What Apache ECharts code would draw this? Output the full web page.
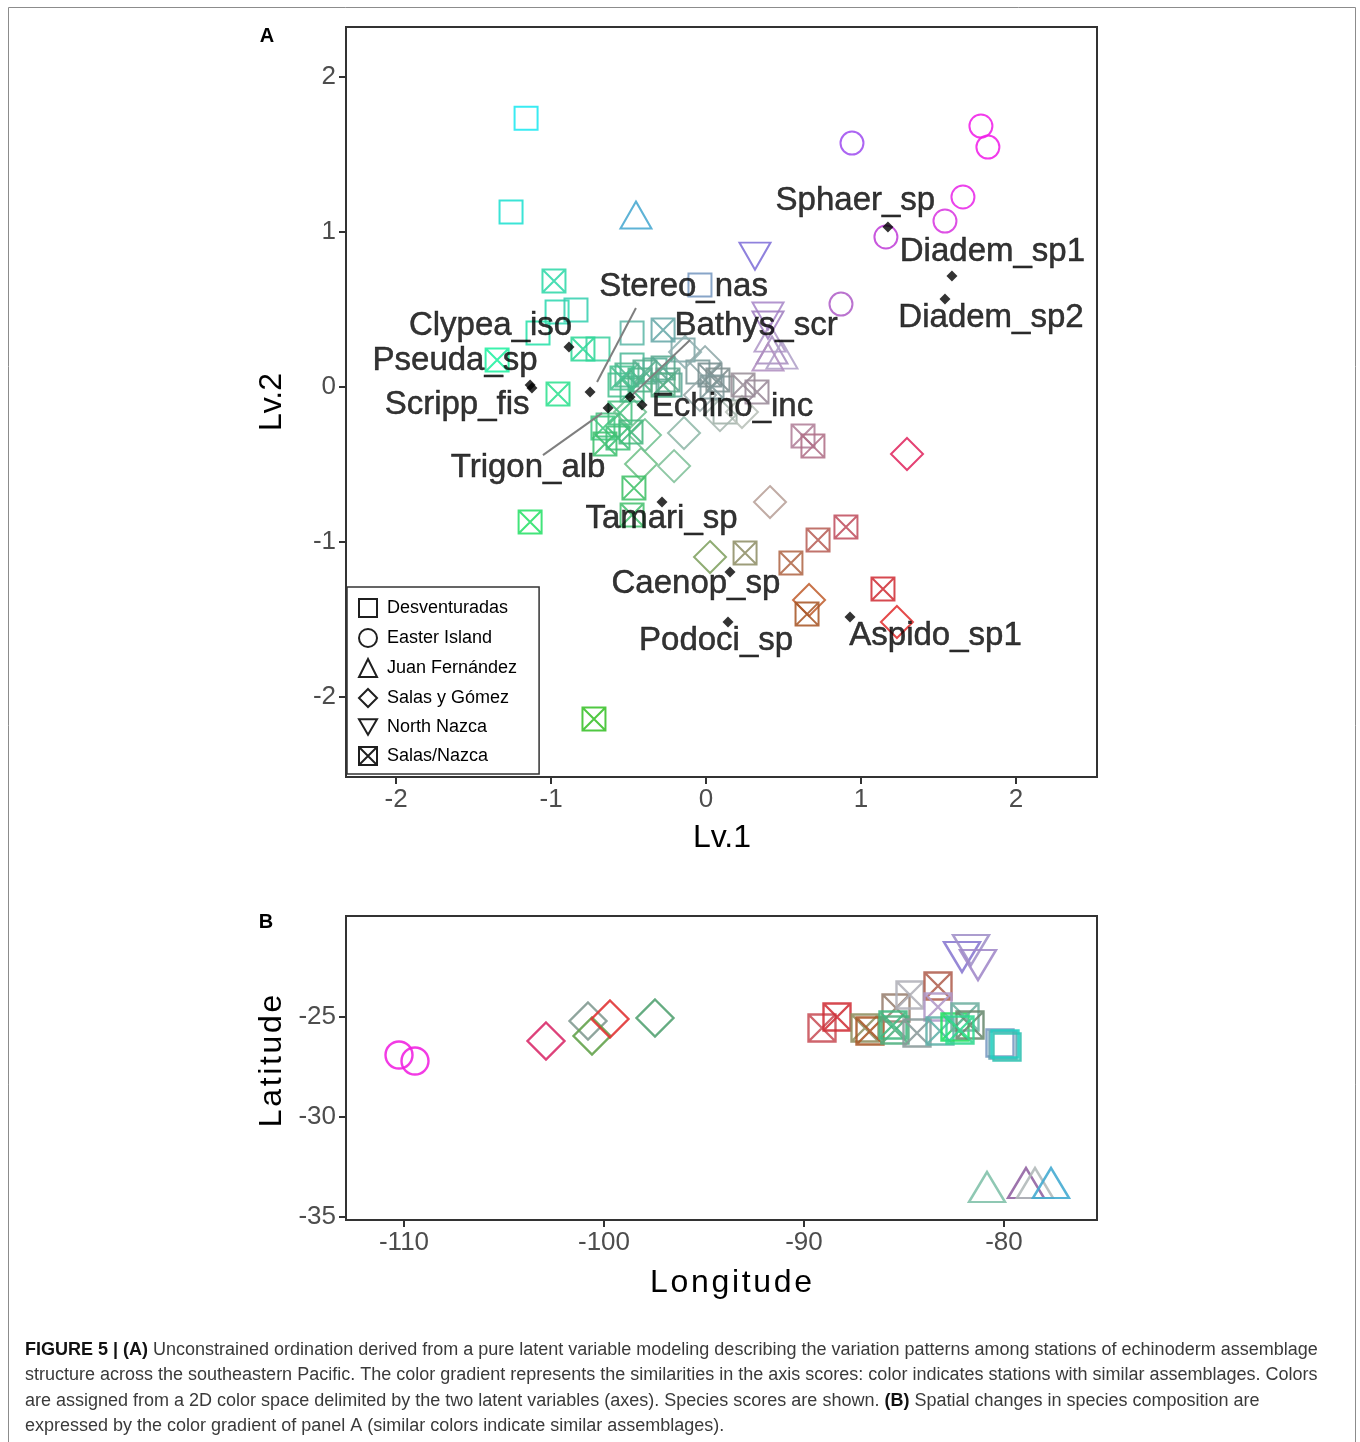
<!DOCTYPE html>
<html><head><meta charset="utf-8">
<script src="https://cdn.jsdelivr.net/npm/echarts@6/dist/echarts.min.js"></script>
<style>html,body{margin:0;padding:0;background:#fff}#c{width:1360px;height:1442px}</style>
</head><body><div id="c"></div>
<script>
// ---------- Panel A: station scores (Lv.1, Lv.2) ----------
const desvA = [[-1.161,1.735],[-1.258,1.129],[-0.961,0.484],[-0.839,0.497],[-1.084,0.348],[-0.697,0.245],[-0.477,0.348],[-0.039,0.658],[-0.477,0.142],[-0.555,0.013],[-0.329,0.110],[-0.232,0.013],[-0.052,0.097],[0.103,-0.006],[0.123,-0.161],[-0.632,-0.245],[-0.148,0.239]];
const desvAColor = ['#1ee8f0','#20e0d0','#30d8b0','#38d0b0','#28e0a8','#40d0a0','#60b8a8','#7898c0','#50b898','#48c090','#58b098','#60a898','#7a9a98','#8a9a9a','#a0b0a8','#48c080','#80a8a8'];

const easterA = [[0.942,1.574],[1.774,1.684],[1.819,1.548],[1.658,1.226],[1.542,1.071],[1.161,0.968],[0.871,0.535]];
const easterAColor = ['#a050f0','#f020e8','#f020e8','#e828e8','#d838e0','#c040d8','#b060c8'];

const juanA = [[-0.452,1.110],[0.413,0.316],[0.426,0.239],[0.490,0.206],[0.400,0.194]];
const juanAColor = ['#48a8d0','#b098c8','#a890c0','#b0a0c8','#b090c0'];

const salasA = [[1.297,-0.432],[1.232,-1.516],[0.665,-1.374],[0.413,-0.742],[0.026,-1.097],[-0.206,-0.510],[-0.419,-0.497],[-0.142,-0.297],[-0.394,-0.310],[0.232,-0.161],[0.090,-0.181],[-0.135,0.226],[-0.006,0.161],[-0.039,-0.052],[-0.490,-0.161]];
const salasAColor = ['#e02860','#e03030','#c06030','#b8a098','#80a060','#80c098','#70c088','#90b8a8','#70c090','#b8c0b8','#a8b8b0','#90b0b0','#90a8a8','#98a8a8','#70c090'];

const nnazcaA = [[0.316,0.845],[0.400,0.458],[0.400,0.400]];
const nnazcaAColor = ['#8070d8','#a888c8','#a080c0'];

const snA = [[-0.981,0.684],[-0.794,0.245],[-1.348,0.174],[-0.955,-0.045],[-0.277,0.368],[-1.135,-0.871],[-0.723,-2.142],[-0.465,-0.652],[-0.477,-0.826],[-0.665,-0.265],[-0.652,-0.368],[-0.484,-0.290],[-0.555,-0.168],[0.626,-0.316],[0.690,-0.381],[0.903,-0.903],[0.723,-0.987],[0.548,-1.135],[0.252,-1.071],[0.652,-1.465],[1.142,-1.303],[-0.510,0.077],[-0.426,0.045],[-0.477,-0.019],[-0.394,0.097],[-0.277,0.123],[-0.245,0.045],[-0.277,0.013],[0.026,0.077],[0.077,0.045],[0.039,0.000],[0.239,0.013],[0.329,-0.032],[-0.542,0.058],[-0.568,-0.329]];
const snAColor = ['#30d8a8','#30d898','#20f0a0','#30e090','#68a8a8','#28e068','#38c028','#40c068','#48c070','#40c880','#40c070','#48b880','#48c080','#b08098','#b07088','#c05060','#b86058','#b06848','#909068','#a85828','#d03038','#50b890','#50b088','#48b888','#58b090','#58a890','#60a890','#58b088','#788e90','#809090','#80989a','#9a9098','#9a8a98','#48c090','#40c078'];

// ---------- Panel A: species scores ----------
const speciesNames = ['Sphaer_sp','Diadem_sp1','Diadem_sp2','Stereo_nas','Bathys_scr','Echino_inc','Trigon_alb','Clypea_iso','Pseuda_sp','Scripp_fis','Tamari_sp','Caenop_sp','Podoci_sp','Aspido_sp1'];
const speciesLv1 = [1.174,1.587,1.542,-0.748,-0.490,-0.413,-0.632,-0.884,-1.135,-1.123,-0.284,0.155,0.142,0.929];
const speciesLv2 = [1.032,0.716,0.568,-0.032,-0.065,-0.116,-0.135,0.258,0.013,-0.006,-0.742,-1.194,-1.516,-1.484];
// label anchor positions (data units, as placed by the label repel)
const labelLv1 = [0.964,1.848,1.839,-0.145,0.323,0.171,-1.148,-1.390,-1.619,-1.606,-0.287,-0.065,0.065,1.481];
const labelLv2 = [1.203,0.874,0.448,0.648,0.397,-0.126,-0.519,0.397,0.171,-0.113,-0.848,-1.268,-1.635,-1.603];
// connector segments (data units)
const connectors = [
  [[-0.703,0.032],[-0.452,0.510]],
  [[-0.477,-0.052],[-0.103,0.303]],
  [[-0.671,-0.168],[-1.052,-0.439]]
];

// ---------- Panel B: stations (Longitude, Latitude) ----------
const desvB = [[-80.2,-26.3],[-80.05,-26.4],[-79.85,-26.5],[-79.95,-26.35]];
const desvBColor = ['#7898c0','#60a0b0','#30c0b0','#20d0c0'];
const easterB = [[-110.25,-26.9],[-109.45,-27.2]];
const easterBColor = ['#f020e0','#f020e0'];
const juanB = [[-80.85,-33.5],[-78.9,-33.3],[-78.45,-33.3],[-77.65,-33.3]];
const juanBColor = ['#80c0a8','#9060a0','#b0b8b8','#40a8d0'];
const salasB = [[-102.9,-26.2],[-100.8,-25.2],[-100.6,-25.95],[-99.7,-25.1],[-97.45,-25.05]];
const salasBColor = ['#d82868','#809890','#60a048','#e03030','#50a070'];
const nnazcaB = [[-82.1,-22.0],[-81.65,-21.65],[-81.3,-22.4]];
const nnazcaBColor = ['#8878d0','#a090c8','#a088c8'];
const snB = [[-89.1,-25.55],[-88.35,-25.0],[-86.95,-25.55],[-86.7,-25.7],[-85.4,-24.55],[-84.7,-23.9],[-83.3,-23.45],[-83.3,-24.5],[-85.45,-25.65],[-85.55,-25.4],[-84.35,-25.8],[-83.2,-25.7],[-82.45,-25.5],[-81.95,-25.0],[-81.7,-25.4],[-82.2,-25.65]];
const snBColor = ['#c85058','#d03038','#909060','#a85828','#988070','#b0b0b8','#b06050','#b098c8','#50b080','#40b880','#8a9a9a','#60b0a8','#20e060','#70b0a0','#6a8a70','#30d890'];

// ---------- tick labels ----------
const lvTicks = [-2,-1,0,1,2];
const lonTicks = [-110,-100,-90,-80];
const latTicks = [-35,-30,-25];

const captionLines = [
  '{b|FIGURE 5 | (A)} Unconstrained ordination derived from a pure latent variable modeling describing the variation patterns among stations of echinoderm assemblage',
  'structure across the southeastern Pacific. The color gradient represents the similarities in the axis scores: color indicates stations with similar assemblages. Colors',
  'are assigned from a 2D color space delimited by the two latent variables (axes). Species scores are shown. {b|(B)} Spatial changes in species composition are',
  'expressed by the color gradient of panel A (similar colors indicate similar assemblages).'
];

// ---------- chart ----------
const FONT = '"Liberation Sans", Arial, Helvetica, sans-serif';
const SQ = 'path://M0,0L10,0L10,10L0,10Z';
const XSQ = 'path://M0,0L10,0L10,10L0,10Z M0,0L10,10 M10,0L0,10';
const INV = 'path://M0,0L10,0L5,8.66Z';
const groups = [
  {name:'Desventuradas', sym:SQ, legendIcon:SQ, sA:[23,23], sB:[27,27], a:desvA, ac:desvAColor, b:desvB, bc:desvBColor},
  {name:'Easter Island', sym:'circle', legendIcon:'circle', sA:[23,23], sB:[27,27], a:easterA, ac:easterAColor, b:easterB, bc:easterBColor},
  {name:'Juan Fernández', sym:'triangle', legendIcon:'triangle', sA:[31,27], sB:[36,30], a:juanA, ac:juanAColor, b:juanB, bc:juanBColor},
  {name:'Salas y Gómez', sym:'diamond', legendIcon:'diamond', sA:[32,32], sB:[37,37], a:salasA, ac:salasAColor, b:salasB, bc:salasBColor},
  {name:'North Nazca', sym:INV, legendIcon:INV, sA:[31,27], sB:[36,30], a:nnazcaA, ac:nnazcaAColor, b:nnazcaB, bc:nnazcaBColor},
  {name:'Salas/Nazca', sym:XSQ, legendIcon:XSQ, sA:[23,23], sB:[27,27], a:snA, ac:snAColor, b:snB, bc:snBColor}
];

function mk(g, pts, cols, gi, size) {
  return {
    type:'scatter', name:g.name, xAxisIndex:gi, yAxisIndex:gi,
    symbol:g.sym, symbolSize:size,
    data: pts.map((p,i)=>({value:p, itemStyle:{borderColor:cols[i]}})),
    itemStyle:{color:'rgba(0,0,0,0)', borderWidth: gi ? 2.4 : 2, opacity:0.88},
    emphasis:{disabled:true}, silent:true, z:3, animation:false
  };
}

const series = [];
groups.forEach(g => series.push(mk(g, g.a, g.ac, 0, g.sA)));
groups.forEach(g => series.push(mk(g, g.b, g.bc, 1, g.sB)));

series.push({
  type:'lines', coordinateSystem:'cartesian2d', xAxisIndex:0, yAxisIndex:0,
  data: connectors.map(c=>({coords:c})),
  lineStyle:{color:'#7f7f7f', width:2, opacity:1}, z:4, silent:true, animation:false
});
series.push({
  type:'scatter', name:'species', xAxisIndex:0, yAxisIndex:0, symbol:'diamond', symbolSize:11,
  data: speciesLv1.map((x,i)=>[x, speciesLv2[i]]),
  itemStyle:{color:'#000'}, z:5, silent:true, animation:false
});
series.push({
  type:'scatter', name:'speciesLabels', xAxisIndex:0, yAxisIndex:0, symbolSize:1,
  data: labelLv1.map((x,i)=>({value:[x, labelLv2[i]], name:speciesNames[i]})),
  itemStyle:{color:'rgba(0,0,0,0)'},
  label:{show:true, position:'inside', formatter:p=>p.name, fontSize:33, color:'#000', fontFamily:FONT, textBorderColor:'#000', textBorderWidth:0.5},
  z:6, silent:true, animation:false
});

function axisCommon(ticks) {
  return {
    type:'value', splitLine:{show:false}, axisLine:{show:false, onZero:false},
    axisTick:{show:true, length:7, lineStyle:{color:'#333', width:2}, customValues:ticks},
    axisLabel:{customValues:ticks, fontSize:26, color:'#4d4d4d', fontFamily:FONT, margin:10},
  };
}

const graphics = [
  {type:'rect', shape:{x:8.5, y:7.5, width:1347, height:1500}, style:{fill:'none', stroke:'#8c8c8c', lineWidth:1}, silent:true},
  {type:'text', x:267, y:36, style:{text:'A', font:'bold 20px '+FONT, fill:'#000', textAlign:'center', textVerticalAlign:'middle'}},
  {type:'text', x:266, y:922, style:{text:'B', font:'bold 20px '+FONT, fill:'#000', textAlign:'center', textVerticalAlign:'middle'}},
  {type:'text', x:722, y:838, style:{text:'Lv.1', font:'32px '+FONT, fill:'#000', textAlign:'center', textVerticalAlign:'middle'}},
  {type:'text', x:272, y:402, rotation:Math.PI/2, style:{text:'Lv.2', font:'32px '+FONT, fill:'#000', textAlign:'center', textVerticalAlign:'middle'}},
  {type:'text', x:731, y:1283, style:{text:'L\u200Ao\u200An\u200Ag\u200Ai\u200At\u200Au\u200Ad\u200Ae', font:'32px '+FONT, fill:'#000', textAlign:'center', textVerticalAlign:'middle'}},
  {type:'text', x:272, y:1061, rotation:Math.PI/2, style:{text:'L\u200Aa\u200At\u200Ai\u200At\u200Au\u200Ad\u200Ae', font:'32px '+FONT, fill:'#000', textAlign:'center', textVerticalAlign:'middle'}}
];
captionLines.forEach((t,i)=>{
  graphics.push({type:'text', x:25, y:1350 + i*25.5, style:{
    text:t, font:'18px "Liberation Sans Narrow", '+FONT, fill:'#3a3a3a', textAlign:'left', textVerticalAlign:'middle',
    rich:{b:{fontWeight:'bold', fill:'#111', fontSize:18, fontFamily:'"Liberation Sans Narrow", '+FONT}}
  }});
});

const option = {
  backgroundColor:'#fff',
  animation:false,
  grid:[
    {left:346, top:27, width:751, height:750, show:true, borderColor:'#333', borderWidth:2, backgroundColor:'rgba(0,0,0,0)', containLabel:false},
    {left:346, top:916, width:751, height:304, show:true, borderColor:'#333', borderWidth:2, backgroundColor:'rgba(0,0,0,0)', containLabel:false}
  ],
  xAxis:[
    Object.assign(axisCommon(lvTicks), {gridIndex:0, min:-2.323, max:2.523}),
    Object.assign(axisCommon(lonTicks), {gridIndex:1, min:-112.9, max:-75.35})
  ],
  yAxis:[
    Object.assign(axisCommon(lvTicks), {gridIndex:0, min:-2.516, max:2.323}),
    Object.assign(axisCommon(latTicks), {gridIndex:1, min:-35.15, max:-19.95})
  ],
  legend:{
    left:347, top:587, orient:'vertical', itemWidth:18, itemHeight:18, itemGap:10,
    padding:[11,22,8,11], borderColor:'#333', borderWidth:1.5, backgroundColor:'#fff',
    selectedMode:false,
    textStyle:{fontSize:18, color:'#000', fontFamily:FONT, padding:[0,0,0,5]},
    data: groups.map(g=>({name:g.name, icon:g.legendIcon, itemStyle:{color:'rgba(0,0,0,0)', borderColor:'#000', borderWidth:2}}))
  },
  graphic: graphics,
  series: series
};

const chart = echarts.init(document.getElementById('c'), null, {renderer:'canvas'});
chart.setOption(option);
</script>
</body></html>
